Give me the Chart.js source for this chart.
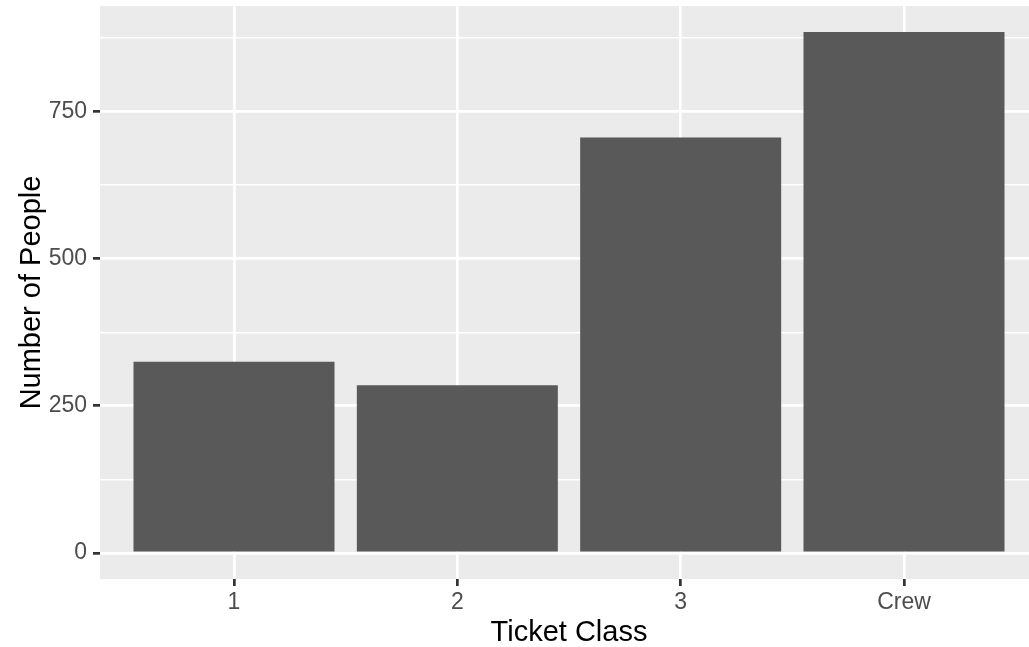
<!DOCTYPE html>
<html>
<head>
<meta charset="utf-8">
<script src="https://cdn.jsdelivr.net/npm/chart.js@4.4.1/dist/chart.umd.min.js"></script>
<style>
html,body{margin:0;padding:0;background:#fff;overflow:hidden;width:1029px;height:647px;}
canvas{display:block;}
</style>
</head>
<body>
<canvas id="c" width="1045" height="647"></canvas>
<script>
const categories = ["1", "2", "3", "Crew"];
const counts = [325, 285, 706, 885];
const yMajorTicks = [0, 250, 500, 750];
const yMinorTicks = [125, 375, 625, 875];

const FONT = "'Liberation Sans', Arial, Helvetica, sans-serif";
const yMax = Math.max(...counts);
const yPad = yMax * 0.05;

const panelBg = {
  id: 'panelBg',
  beforeDraw(chart) {
    const a = chart.chartArea, ctx = chart.ctx;
    ctx.save();
    ctx.fillStyle = '#EBEBEB';
    ctx.fillRect(a.left, a.top, a.right - a.left, a.bottom - a.top);
    ctx.restore();
  }
};

new Chart(document.getElementById('c'), {
  type: 'bar',
  data: {
    datasets: [{
      data: categories.map((c, i) => ({x: i + 1, y: counts[i]})),
      backgroundColor: '#595959',
      borderWidth: 0,
      barPercentage: 0.9,
      categoryPercentage: 1.0
    }]
  },
  options: {
    responsive: false,
    animation: false,
    layout: {padding: {left: 0, right: 7, top: 6, bottom: 0}},
    plugins: {legend: {display: false}, tooltip: {enabled: false}},
    scales: {
      x: {
        type: 'linear',
        offset: false,
        min: 0.4,
        max: categories.length + 0.6,
        afterBuildTicks(s) { s.ticks = categories.map((c, i) => ({value: i + 1})); },
        afterFit(s) { s.height = 68; s.paddingLeft = 0; s.paddingRight = 0; },
        border: {display: false},
        grid: {offset: false, color: '#FFFFFF', lineWidth: 2.7, tickColor: '#333333', tickLength: 7, tickWidth: 2.7, drawTicks: true},
        ticks: {
          autoSkip: false, maxRotation: 0,
          padding: 3,
          color: '#4D4D4D',
          font: {family: FONT, size: 23},
          callback: (v) => categories[Math.round(v) - 1] ?? ''
        },
        title: {display: true, text: 'Ticket Class', color: '#000000', font: {family: FONT, size: 29, lineHeight: 1}, padding: {top: 0, bottom: 0}}
      },
      y: {
        type: 'linear',
        min: -yPad,
        max: yMax + yPad,
        afterBuildTicks(s) {
          s.ticks = [...yMajorTicks, ...yMinorTicks].sort((a, b) => a - b).map(v => ({value: v}));
        },
        afterFit(s) { s.width = 100; s.paddingTop = 0; s.paddingBottom = 0; },
        border: {display: false},
        grid: {
          color: '#FFFFFF',
          lineWidth: (ctx) => (ctx.tick && yMajorTicks.includes(ctx.tick.value)) ? 2.7 : 1.4,
          tickColor: (ctx) => (ctx.tick && yMajorTicks.includes(ctx.tick.value)) ? '#333333' : 'rgba(0,0,0,0)',
          tickLength: 7, tickWidth: 2.7, drawTicks: true
        },
        ticks: {
          autoSkip: false,
          padding: 6,
          color: '#4D4D4D',
          font: {family: FONT, size: 23},
          callback: (v) => yMajorTicks.includes(v) ? String(v) : ''
        },
        title: {display: true, text: 'Number of People', color: '#000000', font: {family: FONT, size: 29, lineHeight: 1}, padding: {top: 17.5, bottom: 0}}
      }
    }
  },
  plugins: [panelBg]
});
</script>
</body>
</html>
